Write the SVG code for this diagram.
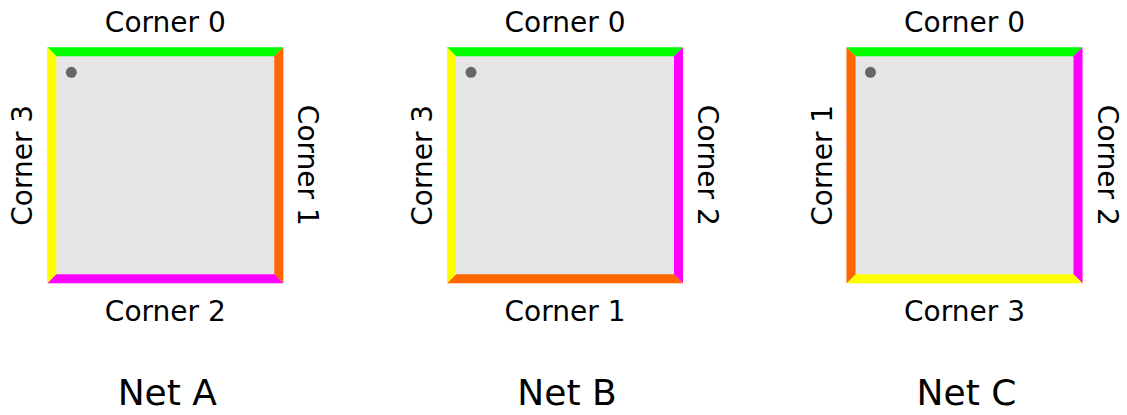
<svg xmlns="http://www.w3.org/2000/svg" width="1127" height="415" viewBox="0 0 1127 415">
<style>
.bg{fill:#e5e5e5}
.g{fill:#00ff00}.o{fill:#ff6600}.y{fill:#ffff00}.m{fill:#ff00ff}
.dot{fill:#666666}
text{font-family:"DejaVu Sans",sans-serif;fill:#000;text-anchor:middle}
.lbl{font-size:28px}
.net{font-size:36px}
</style>
<defs>
<path id="top" d="M0,0 H236 L227,9 H9 Z"/>
<path id="right" d="M236,0 V236 L227,227 V9 Z"/>
<path id="bottom" d="M0,236 H236 L227,227 H9 Z"/>
<path id="left" d="M0,0 V236 L9,227 V9 Z"/>
</defs>
<rect width="1127" height="415" fill="#fff"/>
<g id="netA" transform="translate(47.3,47.3)">
<rect class="bg" x="0" y="0" width="236" height="236"/>
<use href="#top" class="g"/><use href="#right" class="o"/><use href="#bottom" class="m"/><use href="#left" class="y"/>
<circle class="dot" cx="24" cy="25" r="5.5"/>
<text class="lbl" x="118" y="-15">Corner 0</text>
<text class="lbl" transform="translate(251,118) rotate(90)">Corner 1</text>
<text class="lbl" x="118" y="274">Corner 2</text>
<text class="lbl" transform="translate(-15,118) rotate(-90)">Corner 3</text>
<text class="net" x="120" y="358">Net A</text>
</g>
<g id="netB" transform="translate(447,47.3)">
<rect class="bg" x="0" y="0" width="236" height="236"/>
<use href="#top" class="g"/><use href="#right" class="m"/><use href="#bottom" class="o"/><use href="#left" class="y"/>
<circle class="dot" cx="24" cy="25" r="5.5"/>
<text class="lbl" x="118" y="-15">Corner 0</text>
<text class="lbl" transform="translate(251,118) rotate(90)">Corner 2</text>
<text class="lbl" x="118" y="274">Corner 1</text>
<text class="lbl" transform="translate(-15,118) rotate(-90)">Corner 3</text>
<text class="net" x="120" y="358">Net B</text>
</g>
<g id="netC" transform="translate(846.5,47.3)">
<rect class="bg" x="0" y="0" width="236" height="236"/>
<use href="#top" class="g"/><use href="#right" class="m"/><use href="#bottom" class="y"/><use href="#left" class="o"/>
<circle class="dot" cx="24" cy="25" r="5.5"/>
<text class="lbl" x="118" y="-15">Corner 0</text>
<text class="lbl" transform="translate(251,118) rotate(90)">Corner 2</text>
<text class="lbl" x="118" y="274">Corner 3</text>
<text class="lbl" transform="translate(-15,118) rotate(-90)">Corner 1</text>
<text class="net" x="120" y="358">Net C</text>
</g>
<g id="connectors"/>
</svg>
